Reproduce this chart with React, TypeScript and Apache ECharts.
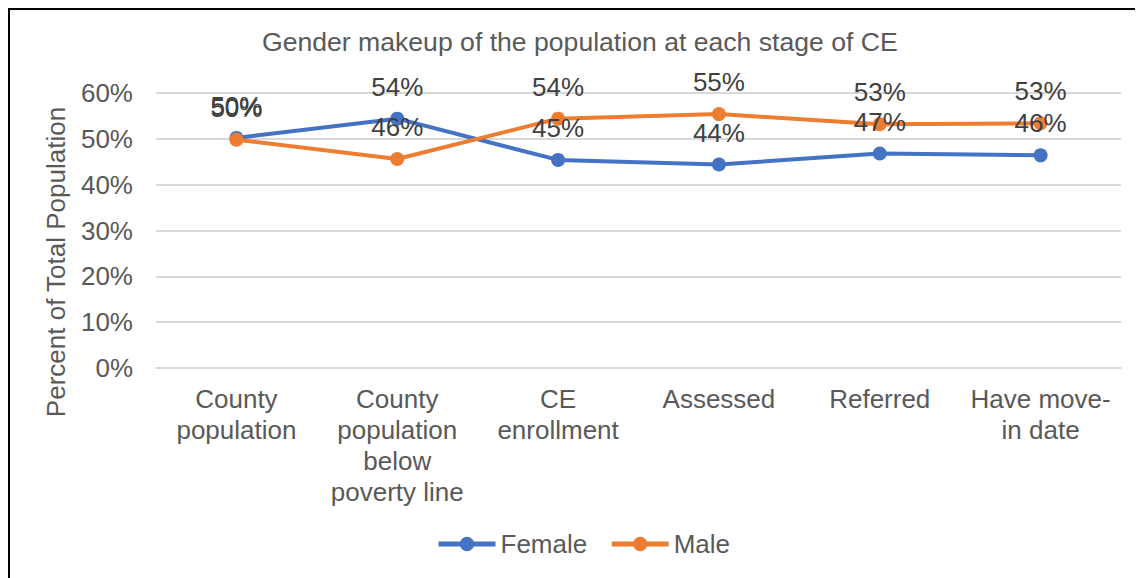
import React, { useEffect, useRef } from "react";
import * as echarts from "echarts";

// Stages of the CE process shown along the x axis
const stages = [
  "County\npopulation",
  "County\npopulation\nbelow\npoverty line",
  "CE\nenrollment",
  "Assessed",
  "Referred",
  "Have move-\nin date",
];

// Share of each stage's population, in percent
const femaleShare = [50.2, 54.4, 45.4, 44.4, 46.8, 46.4];
const maleShare = [49.8, 45.6, 54.4, 55.4, 53.2, 53.4];

const yTicks = { min: 0, max: 60, interval: 10 };

const FONT = "'Liberation Sans', Arial, sans-serif";
const BLUE = "#4472C4";
const ORANGE = "#ED7D31";
const AXIS_TEXT = "#595959";
const LABEL_TEXT = "#404040";
const GRID = "#d9d9d9";

export default function App() {
  const ref = useRef<HTMLDivElement>(null);

  useEffect(() => {
    if (!ref.current) return;
    const chart = echarts.init(ref.current, null, { renderer: "svg" });

    const makeSeries = (name: string, data: number[], color: string) => ({
      name,
      type: "line",
      data,
      symbol: "circle",
      symbolSize: 14,
      lineStyle: { color, width: 4 },
      itemStyle: { color },
      label: {
        show: true,
        position: "top",
        distance: 12,
        fontFamily: FONT,
        fontSize: 26,
        color: LABEL_TEXT,
        formatter: (p: any) => `${Math.round(p.value)}%`,
      },
    });

    chart.setOption({
      animation: false,
      textStyle: { fontFamily: FONT },
      title: {
        text: "Gender makeup of the population at each stage of CE",
        left: 252,
        top: 18,
        padding: 0,
        textStyle: {
          fontFamily: FONT,
          fontSize: 26.6,
          fontWeight: "normal",
          color: AXIS_TEXT,
        },
      },
      legend: {
        data: ["Female", "Male"],
        left: 421,
        top: 516,
        itemWidth: 57,
        itemHeight: 18,
        itemGap: 22,
        lineStyle: { width: 5 },
        textStyle: { fontFamily: FONT, fontSize: 26, color: AXIS_TEXT },
      },
      graphic: [
        {
          type: "text",
          x: 46,
          y: 252,
          rotation: Math.PI / 2,
          style: {
            text: "Percent of Total Population",
            x: 0,
            y: 0,
            align: "center",
            verticalAlign: "middle",
            font: `26px ${FONT}`,
            fill: AXIS_TEXT,
          },
        },
      ],
      grid: { left: 146, top: 83, width: 965, height: 275 },
      xAxis: {
        type: "category",
        data: stages,
        boundaryGap: true,
        axisTick: { show: false },
        axisLine: { lineStyle: { color: GRID, width: 2 } },
        axisLabel: {
          interval: 0,
          margin: 15,
          fontFamily: FONT,
          fontSize: 26,
          lineHeight: 31,
          color: AXIS_TEXT,
        },
      },
      yAxis: {
        type: "value",
        min: yTicks.min,
        max: yTicks.max,
        interval: yTicks.interval,
        axisLine: { show: false },
        axisTick: { show: false },
        axisLabel: {
          formatter: "{value}%",
          margin: 23,
          fontFamily: FONT,
          fontSize: 26,
          color: AXIS_TEXT,
        },
        splitLine: { lineStyle: { color: GRID, width: 2 } },
      },
      series: [
        makeSeries("Female", femaleShare, BLUE),
        makeSeries("Male", maleShare, ORANGE),
      ],
    });

    return () => chart.dispose();
  }, []);

  return (
    <div
      style={{
        width: 1135,
        height: 570,
        boxSizing: "border-box",
        borderLeft: "2px solid #000",
        borderTop: "2px solid #000",
        background: "#fff",
        overflow: "hidden",
      }}
    >
      <div ref={ref} style={{ width: 1133, height: 568 }} />
    </div>
  );
}
